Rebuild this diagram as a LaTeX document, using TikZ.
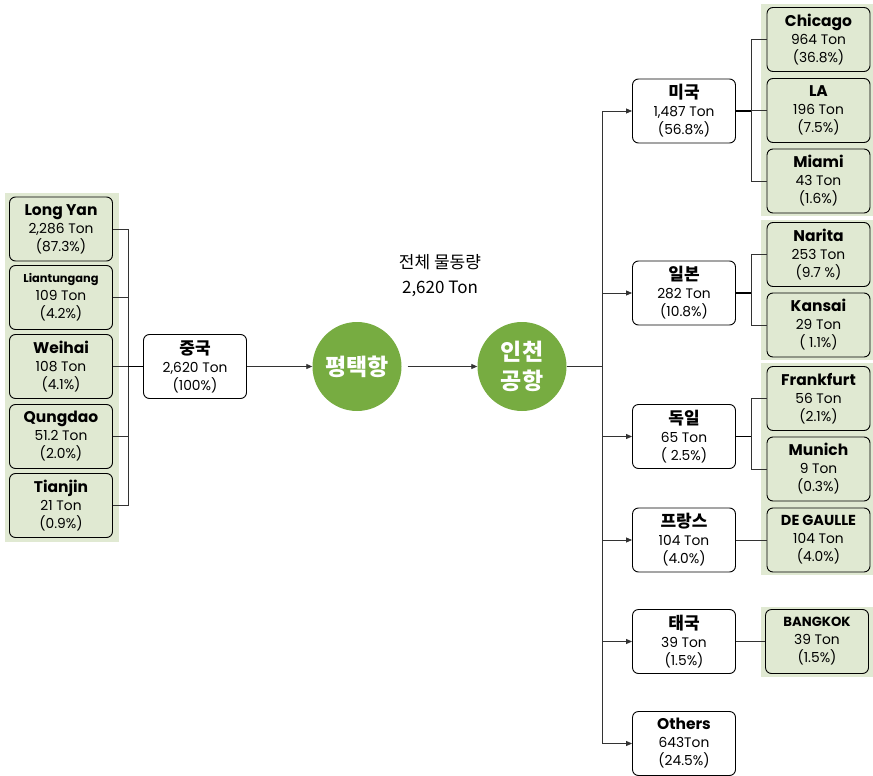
\documentclass[tikz,border=0pt]{standalone}
\usepackage{fontspec}
\setmainfont{Poppins}
\newfontfamily\kr{Noto Sans CJK KR}
\usetikzlibrary{arrows.meta}
\definecolor{bggreen}{HTML}{E0E9D2}
\definecolor{cgreen}{HTML}{77AC41}
\definecolor{ln}{HTML}{333333}
\tikzset{
  box/.style={draw=black, line width=0.9pt, rounded corners=6pt, minimum width=103pt, minimum height=64pt, align=center, inner sep=0pt, font=\fontsize{13.8}{18}\selectfont},
  gbox/.style={box, fill=bggreen},
  wbox/.style={box, fill=white},
  bgrect/.style={fill=bggreen, draw=none},
  hub/.style={circle, fill=cgreen, minimum size=89pt, inner sep=0pt, text=white, align=center, font=\kr\bfseries\fontsize{23}{29}\selectfont},
  conn/.style={draw=ln, line width=0.8pt},
  junc/.style={draw=black, line width=1.8pt},
  arr/.style={conn, -{Triangle[length=6pt,width=5pt]}},
}
\newcommand{\nm}[1]{{\bfseries\fontsize{15.5}{18}\selectfont #1}}
\newcommand{\knm}[1]{{\kr\bfseries\fontsize{17}{18}\selectfont #1}}
\begin{document}
\begin{tikzpicture}[x=1pt,y=-1pt]
\useasboundingbox (0,0) rectangle (873,776);
% backgrounds
\fill[bgrect] (5,193) rectangle (119,542);
\fill[bgrect] (761,4) rectangle (873,216);
\fill[bgrect] (761,220) rectangle (873,360);
\fill[bgrect] (761,363) rectangle (873,575);
\fill[bgrect] (761,607) rectangle (873,677);
% left column
\node[gbox] (ly) at (61,229) {\nm{Long Yan}\\2,286 Ton\\(87.3\%)};
\node[gbox] (lt) at (61,297.5) {{\bfseries\fontsize{11.4}{18}\selectfont Liantungang}\\109 Ton\\(4.2\%)};
\node[gbox] (wh) at (61,366.5) {\nm{Weihai}\\108 Ton\\(4.1\%)};
\node[gbox] (qd) at (61,436.5) {\nm{Qungdao}\\51.2 Ton\\(2.0\%)};
\node[gbox] (tj) at (61,505.5) {\nm{Tianjin}\\21 Ton\\(0.9\%)};
\coordinate (jL) at (128,366.5);
\node[wbox] (cn) at (195,366.5) {\knm{중국}\\2,620 Ton\\(100\%)};
\foreach \n in {ly,lt,wh,qd,tj} \draw[conn] (\n.east) -| (jL);
\draw[junc] (jL) -- (cn.west);
% hubs
\node[hub] (pt) at (357,366.5) {평택항};
\node[hub] (ic) at (522,366.5) {인천\\공항};
\node[font=\kr\fontsize{17}{25}\selectfont, align=center] (tot) at (440,276) {전체 물동량\\2,620 Ton};
\draw[arr] (cn.east) -- (pt.west);
\draw[arr] (pt.east) ++(6,0) coordinate (ptx) (ptx) -- (ic.west);
% countries
\node[wbox] (us) at (684,111) {\knm{미국}\\1,487 Ton\\(56.8\%)};
\node[wbox] (jp) at (684,293) {\knm{일본}\\282 Ton\\(10.8\%)};
\node[wbox] (de) at (684,436.5) {\knm{독일}\\65 Ton\\( 2.5\%)};
\node[wbox] (fr) at (684,540) {\knm{프랑스}\\104 Ton\\(4.0\%)};
\node[wbox] (th) at (684,641.5) {\knm{태국}\\39 Ton\\(1.5\%)};
\node[wbox] (ot) at (684,743.5) {\nm{Others}\\643Ton\\(24.5\%)};
\coordinate (jR) at (602,366.5);
\draw[conn] (ic.east) -- (jR);
\foreach \n in {us,jp,de,fr,th,ot} \draw[arr] (jR) |- (\n.west);
% cities
\node[gbox] (chi) at (818.5,39.5) {\nm{Chicago}\\964 Ton\\(36.8\%)};
\node[gbox] (la) at (818.5,110.5) {\nm{LA}\\196 Ton\\(7.5\%)};
\node[gbox] (mia) at (818.5,181) {\nm{Miami}\\43 Ton\\(1.6\%)};
\node[gbox] (nar) at (818.5,254.5) {\nm{Narita}\\253 Ton\\(9.7 \%)};
\node[gbox] (kan) at (818.5,325) {\nm{Kansai}\\29 Ton\\( 1.1\%)};
\node[gbox] (fra) at (818.5,398.5) {\nm{Frankfurt}\\56 Ton\\(2.1\%)};
\node[gbox] (mun) at (818.5,469) {\nm{Munich}\\9 Ton\\(0.3\%)};
\node[gbox] (dg) at (818.5,540) {{\bfseries\fontsize{14.5}{18}\selectfont DE GAULLE}\\104 Ton\\(4.0\%)};
\node[gbox] (bk) at (817,641.5) {{\bfseries\fontsize{13.2}{18}\selectfont BANGKOK}\\39 Ton\\(1.5\%)};
% sub connectors
\coordinate (jUS) at (751,111);
\coordinate (jJP) at (751,293);
\coordinate (jDE) at (751,436.5);
\draw[junc] (us.east) -- (jUS);
\foreach \n in {chi,la,mia} \draw[conn] (jUS) |- (\n.west);
\draw[junc] (jp.east) -- (jJP);
\foreach \n in {nar,kan} \draw[conn] (jJP) |- (\n.west);
\draw[junc] (de.east) -- (jDE);
\foreach \n in {fra,mun} \draw[conn] (jDE) |- (\n.west);
\draw[conn] (fr.east) -- (dg.west);
\draw[conn] (th.east) -- (bk.west);
\end{tikzpicture}
\end{document}
